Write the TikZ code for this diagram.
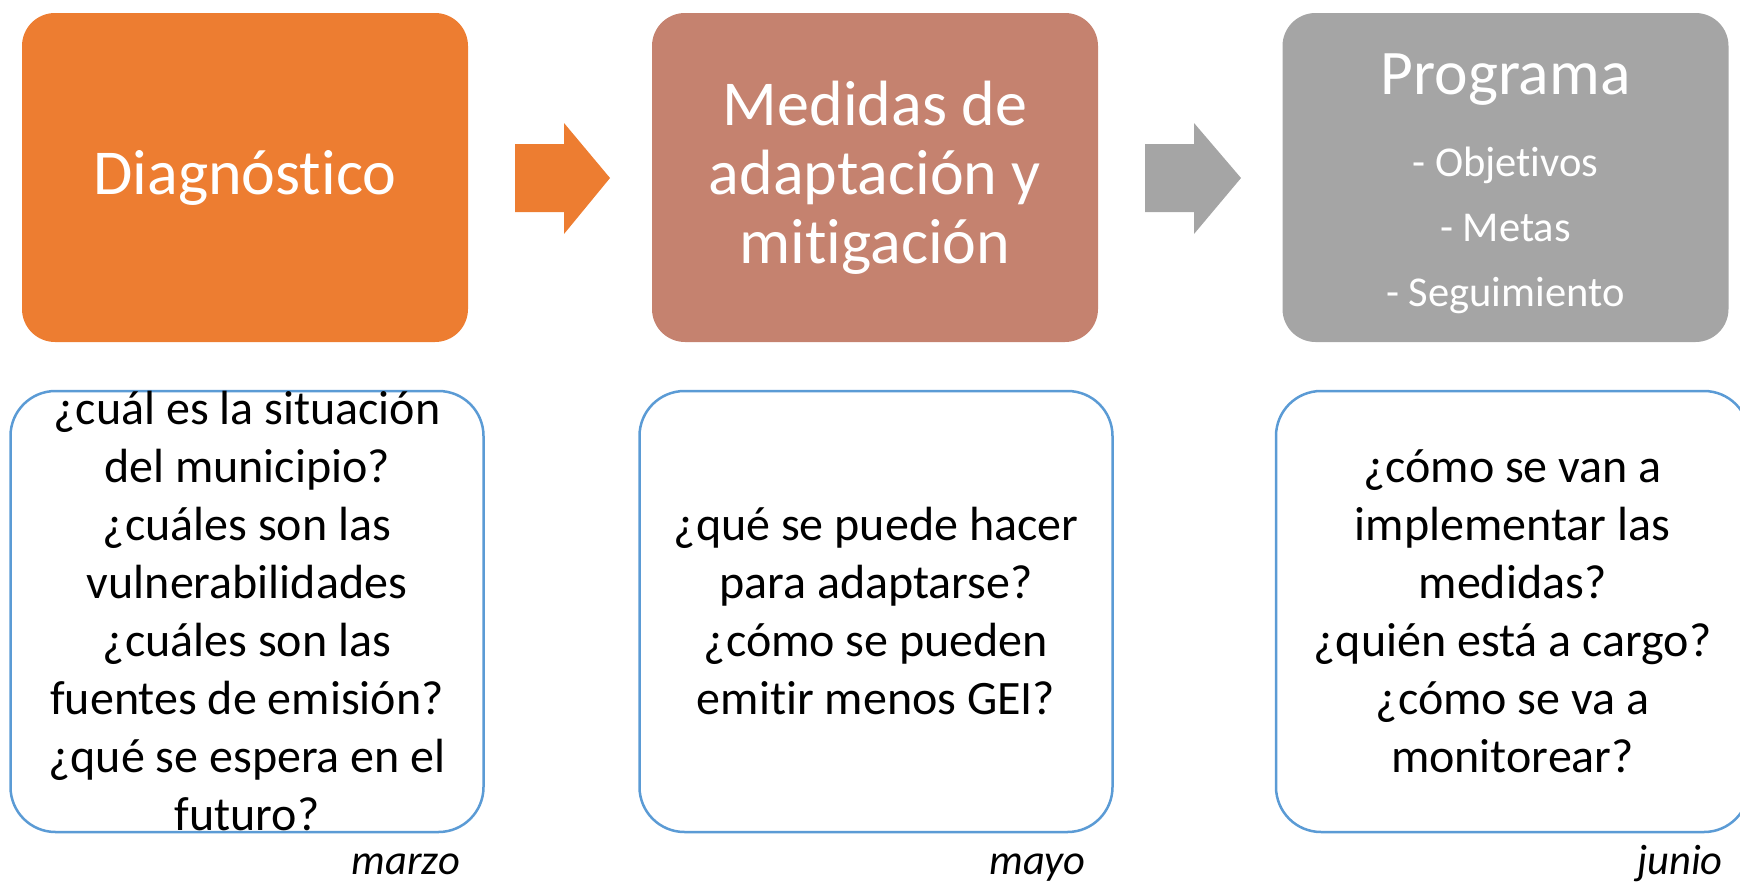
\documentclass[tikz,border=0pt]{standalone}
\usepackage{fontspec}
\setmainfont{Carlito}[Ligatures=CommonOff]
\definecolor{orangeA}{HTML}{ED7D31}
\definecolor{roseA}{HTML}{C5826F}
\definecolor{greyA}{HTML}{A5A5A5}
\definecolor{blueA}{HTML}{5B9BD5}
\tikzset{
  topbox/.style={rectangle, rounded corners=33pt, minimum width=446pt, minimum height=329pt, inner sep=0pt, text=white, align=center},
  qbox/.style={rectangle, rounded corners=45pt, draw=blueA, line width=2.5pt, fill=white, minimum width=473pt, minimum height=441pt, inner sep=0pt},
  qtext/.style={align=center, inner sep=0pt, font=\fontsize{48}{58}\selectfont},
  bigtxt/.style={font=\fontsize{64}{69}\selectfont},
  listtxt/.style={text=white, inner sep=0pt, anchor=base, font=\fontsize{42.5}{46}\selectfont},
  month/.style={anchor=base east, inner sep=0pt, font=\fontsize{42.5}{46}\selectfont\itshape},
}
\begin{document}
\begin{tikzpicture}[x=1pt,y=-1pt]
\useasboundingbox (0,0) rectangle (1740,881);
% top boxes
\node[topbox, fill=orangeA, bigtxt] (diag) at (245,177.5) {Diagnóstico};
\node[topbox, fill=roseA, bigtxt] (med) at (875,177.5) {Medidas de\\adaptación y\\mitigación};
\node[topbox, fill=greyA] (prog) at (1505.5,177.5) {};
\node[listtxt, font=\fontsize{63.5}{69}\selectfont] (progt) at (1505.5,94) {Programa};
\node[listtxt] (obj) at (1505.5,176) {- Objetivos};
\node[listtxt] (met) at (1505.5,241) {- Metas};
\node[listtxt] (seg) at (1505.5,306) {- Seguimiento};
% arrows
\fill[orangeA] (515,144) -- (564,144) -- (564,123) -- (610,178) -- (564,234) -- (564,212) -- (515,212) -- cycle;
\fill[greyA] (1145,144) -- (1194,144) -- (1194,123) -- (1241,178) -- (1194,234) -- (1194,212) -- (1145,212) -- cycle;
% question boxes
\node[qbox] (q1) at (247,611.5) {};
\node[qtext] (q1t) at (q1.center) {¿cuál es la situación\\del municipio?\\¿cuáles son las\\vulnerabilidades\\¿cuáles son las\\fuentes de emisión?\\¿qué se espera en el\\futuro?};
\node[qbox] (q2) at (876,611.5) {};
\node[qtext] (q2t) at (q2.center) {¿qué se puede hacer\\para adaptarse?\\¿cómo se pueden\\emitir menos GEI?};
\node[qbox] (q3) at (1512.5,611.5) {};
\node[qtext] (q3t) at (q3.center) {¿cómo se van a\\implementar las\\medidas?\\¿quién está a cargo?\\¿cómo se va a\\monitorear?};
% months
\node[month] (m1) at (460,874) {marzo};
\node[month] (m2) at (1086,874) {mayo};
\node[month] (m3) at (1723,874) {junio};
\end{tikzpicture}
\end{document}
